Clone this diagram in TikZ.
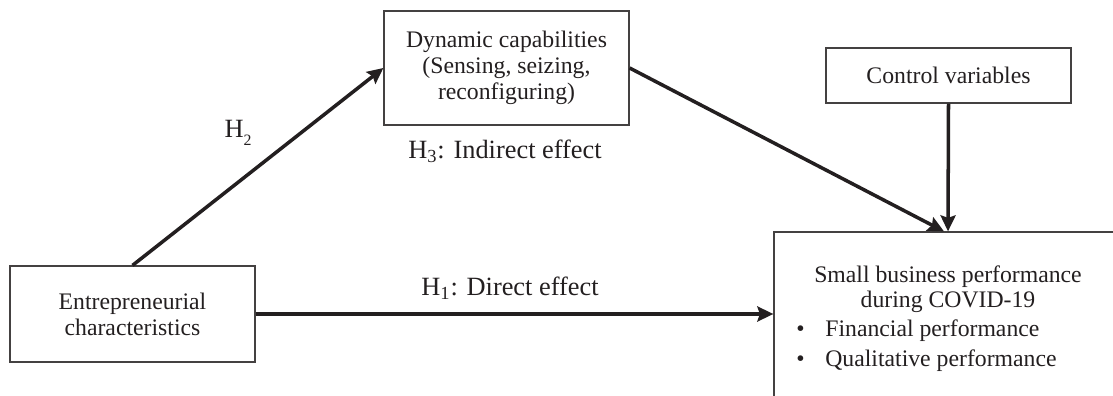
\documentclass[tikz,border=0pt]{standalone}
\usepackage{fontspec}
\setmainfont{Liberation Serif}
\usetikzlibrary{arrows.meta, positioning, calc}
\definecolor{lineColor}{RGB}{35, 31, 32}
\tikzstyle{concept} = [rectangle, minimum width=4.9cm, text centered, align=center, draw=lineColor!85, line width=0.7pt, text=lineColor, font=\fontsize{13.5}{14.8}\selectfont]
\tikzstyle{hyp} = [line width=2pt, draw=lineColor, -{Stealth[length=0.32cm, width=0.3cm, inset=0.05cm]}]
\tikzstyle{hyplabel} = [text=lineColor, font=\fontsize{15}{18}\selectfont]
\tikzstyle{perftext} = [text=lineColor, inner sep=0pt, font=\fontsize{13.5}{14.2}\selectfont]

\begin{document}
\begin{tikzpicture}
			\clip (0,0) rectangle (22.26,-7.92);
			\node (ent) [concept, minimum height=1.92cm] at (2.65,-6.28) {Entrepreneurial\\characteristics};
			\node (dyn) [concept, minimum height=2.28cm] at (10.13,-1.36) {Dynamic capabilities\\(Sensing, seizing,\\reconfiguring)};
			\node (ctrl) [concept, minimum height=1.1cm] at (18.97,-1.51) {Control variables};
			\node (perf) [concept, minimum width=6.96cm, minimum height=3.76cm] at (18.96,-6.52) {};
			\node (perftitle) [perftext, align=center] at (18.96,-5.78) {Small business performance\\during COVID-19};
			\node (perffin) [perftext, anchor=base west] at (15.92,-6.74) {\makebox[0.58cm][l]{\textbullet}Financial performance};
			\node (perfqual) [perftext, anchor=base west] at (15.92,-7.34) {\makebox[0.58cm][l]{\textbullet}Qualitative performance};
			
			\draw[hyp] (ent.north) -- (dyn.west);
			\draw[hyp] (ent.east) -- (ent.east -| perf.west);
			\draw[hyp] (dyn.east) -- ($(perf.north)+(-0.08,0)$);
			\draw[hyp] (ctrl.south) -- (perf.north);
			
			\node (h2) [hyplabel] at (4.76,-2.66) {H\raisebox{-0.7ex}{\fontsize{9}{9}\selectfont 2}};
			\node (h3) [hyplabel] at (10.1,-3.02) {H\textsubscript{3}: Indirect effect};
			\node (h1) [hyplabel] at (10.2,-5.76) {H\textsubscript{1}: Direct effect};
\end{tikzpicture}
\end{document}
